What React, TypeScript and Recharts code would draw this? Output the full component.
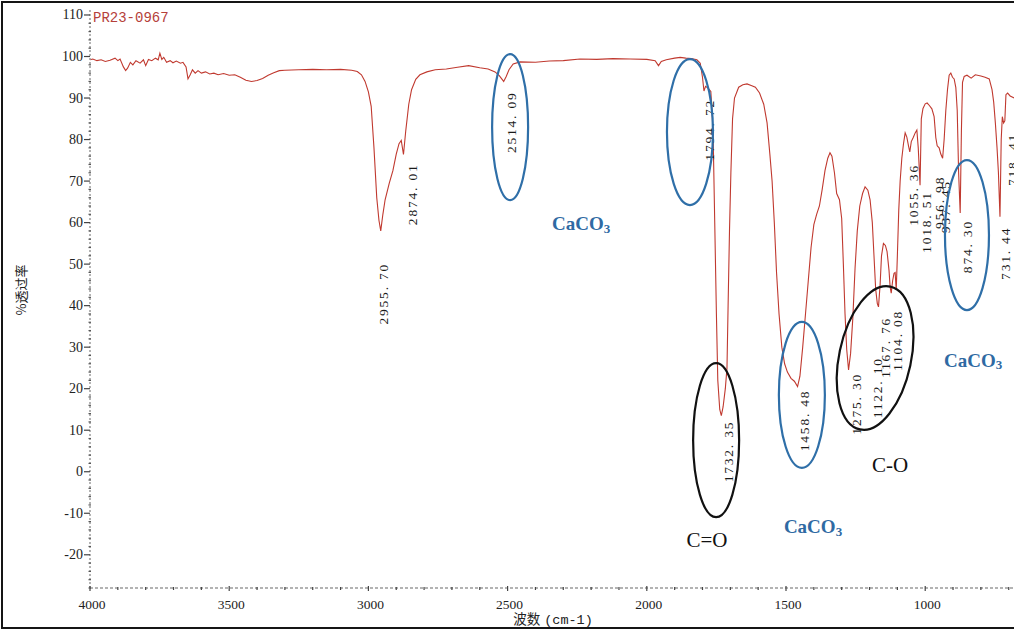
import React from 'react';
import { ComposedChart, Line, Scatter, XAxis, YAxis, ReferenceDot } from 'recharts';

// Wavenumber (cm-1) of each sampled point of the spectrum, high to low
const wavenumbers = [
  4000, 3990, 3975, 3960, 3945, 3928, 3910, 3900, 3892, 3880, 3872, 3865, 3855, 3846, 3835, 3820,
  3808, 3800, 3790, 3778, 3765, 3755, 3749, 3742, 3735, 3725, 3712, 3702, 3690, 3675, 3666, 3655,
  3648, 3640, 3632, 3622, 3612, 3600, 3585, 3570, 3555, 3540, 3520, 3500, 3480, 3460, 3440, 3420,
  3400, 3380, 3360, 3340, 3320, 3300, 3250, 3200, 3150, 3100, 3060, 3040, 3025, 3012, 3000, 2990,
  2980, 2970, 2962, 2955.7, 2948, 2940, 2925, 2912, 2900, 2890, 2882, 2874.01, 2866, 2855, 2845, 2830,
  2815, 2790, 2760, 2720, 2680, 2640, 2600, 2570, 2545, 2530, 2514.09, 2505, 2495, 2480, 2455, 2400,
  2350, 2300, 2240, 2180, 2121, 2060, 2000, 1970, 1958, 1948, 1930, 1900, 1880, 1860, 1840, 1820,
  1808, 1800, 1794.72, 1789, 1780, 1770, 1762, 1756, 1750, 1745, 1738, 1732.35, 1726, 1718, 1712, 1708,
  1703, 1698, 1692, 1685, 1670, 1655, 1640, 1625, 1610, 1595, 1580, 1568, 1558, 1550, 1542, 1534,
  1525, 1515, 1505, 1495, 1482, 1470, 1458.48, 1450, 1440, 1430, 1420, 1410, 1400, 1390, 1380, 1370,
  1360, 1350, 1342, 1335, 1326, 1318, 1308, 1300, 1294, 1288, 1282, 1275.3, 1268, 1260, 1252, 1244,
  1235, 1225, 1216, 1206, 1198, 1190, 1184, 1178, 1172, 1167.76, 1162, 1157, 1150, 1143, 1137, 1130,
  1126, 1122.1, 1117, 1112, 1108, 1104.08, 1100, 1095, 1090, 1084, 1078, 1072, 1066, 1060, 1055.36, 1050,
  1043, 1036, 1030, 1025, 1018.51, 1014, 1008, 1000, 993, 985, 976, 968, 962, 956.98, 950, 944,
  937.45, 932, 926, 920, 914, 908, 902, 896, 890, 885, 880, 874.3, 870, 866, 860, 850,
  835, 820, 800, 785, 770, 760, 754, 748, 742, 737, 731.44, 727, 723, 718.41, 714, 710,
  704, 695, 680, 665, 650, 640, 620,
];

// %T at each wavenumber above
const transmittance = [
  99.2, 99.4, 99.0, 99.2, 98.8, 99.1, 99.6, 99.0, 99.4, 97.5, 96.6, 97.2, 98.6, 98.0, 99.0, 98.4,
  99.2, 97.8, 99.3, 99.0, 99.6, 99.2, 100.8, 99.3, 99.8, 98.6, 99.0, 98.5, 98.9, 98.4, 98.6, 97.5,
  94.6, 95.6, 96.8, 96.0, 96.6, 96.0, 96.3, 95.8, 96.0, 95.6, 95.9, 95.5, 95.6, 95.0, 94.3, 94.0,
  94.2, 94.7, 95.5, 96.1, 96.6, 96.7, 96.8, 96.9, 96.8, 96.9, 96.7, 96.4, 95.6, 94.0, 91.5, 88.0,
  78.0, 66.0, 60.5, 58.0, 62.0, 65.5, 69.5, 72.5, 76.5, 79.0, 79.8, 76.4, 82.0, 88.5, 92.0, 94.5,
  95.6, 96.3, 96.8, 97.0, 97.4, 97.8, 97.3, 97.0, 96.3, 95.4, 94.0, 95.2, 96.8, 98.2, 98.7, 98.6,
  98.9, 99.0, 99.4, 99.3, 99.5, 99.4, 99.3, 99.0, 97.8, 98.8, 99.2, 99.6, 99.8, 99.6, 99.5, 99.2,
  98.4, 95.0, 91.7, 92.8, 92.4, 91.6, 82.0, 60.0, 38.0, 22.0, 15.0, 13.5, 15.6, 20.0, 25.0, 40.0,
  58.0, 72.0, 85.0, 90.0, 92.6, 93.2, 93.4, 93.0, 92.6, 91.2, 88.5, 84.0, 76.5, 70.0, 60.0, 48.0,
  38.0, 30.0, 26.0, 24.0, 22.5, 21.8, 20.5, 23.0, 30.0, 38.0, 46.0, 54.0, 59.5, 62.0, 64.0, 68.0,
  72.5, 75.5, 76.8, 76.0, 72.0, 67.0, 65.5, 61.0, 50.0, 38.0, 29.5, 24.5, 28.5, 37.0, 49.0, 58.0,
  64.0, 67.0, 68.6, 67.8, 65.5, 60.0, 52.0, 44.0, 40.5, 39.7, 45.0, 52.0, 55.0, 54.5, 53.0, 48.5,
  44.5, 43.0, 46.0, 47.8, 48.0, 43.8, 52.0, 63.0, 70.0, 75.5, 79.0, 81.6, 80.6, 78.5, 77.0, 79.5,
  80.5, 81.6, 82.3, 78.0, 69.0, 85.0, 87.5, 88.6, 88.8, 88.2, 87.4, 85.5, 80.5, 78.5, 78.0, 76.5,
  75.5, 80.0, 87.0, 92.0, 95.5, 96.0, 95.0, 94.6, 92.5, 87.0, 72.0, 62.3, 82.0, 93.8, 95.2, 95.5,
  94.8, 95.6, 95.3, 95.0, 94.6, 92.0, 89.0, 84.0, 78.0, 72.0, 61.4, 80.0, 85.5, 84.0, 84.5, 90.8,
  91.2, 90.5, 90.0, 90.5, 90.0, 90.2, 90.0,
];

// Picked peaks: position and %T at the tip
const peakWavenumbers = [2955.7, 2874.01, 2514.09, 1794.72, 1732.35, 1458.48, 1275.3, 1167.76, 1122.1, 1104.08, 1055.36, 1018.51, 956.98, 937.45, 874.3, 731.44, 718.41];
const peakTransmittance = [58.0, 76.4, 94.0, 91.7, 13.5, 20.5, 24.5, 39.7, 43.0, 43.8, 77.0, 69.0, 78.5, 75.5, 62.3, 61.4, 84.0];
// Where each peak's label sits relative to its tip, in pixels [dx, dy]
const peakLabelOffsets = [[3, 32], [9, 9], [8, 10], [6, 8], [7, 5], [7, 3], [8, 3], [7, 10], [-14, 64], [1, 20], [4, 12], [6, 6], [2, 30], [3, 22], [7, 7], [6, 10], [9, 10]];

const xTickLabels = [4000, 3500, 3000, 2500, 2000, 1500, 1000];
const yTickLabels = [110, 100, 90, 80, 70, 60, 50, 40, 30, 20, 10, 0, -10, -20];

// Marked groups: centre in data units, radii in px
const circledBands = [
  { wn: 2491, t: 83.0, rx: 18, ry: 73, angle: 0, color: '#2f6fa8' },
  { wn: 1845, t: 81.8, rx: 23, ry: 73, angle: 0, color: '#2f6fa8' },
  { wn: 1443, t: 18.5, rx: 23, ry: 73, angle: 0, color: '#2f6fa8' },
  { wn: 850, t: 57.0, rx: 22, ry: 75, angle: 0, color: '#2f6fa8' },
  { wn: 1751, t: 7.6, rx: 23, ry: 77, angle: 0, color: '#111' },
  { wn: 1180, t: 27.4, rx: 36, ry: 73, angle: 12, color: '#111' },
];

const bandNotes = [
  { wn: 2236, t: 59.7, text: 'CaCO', sub: '3', color: '#2f6aa3', bold: true },
  { wn: 828, t: 26.9, text: 'CaCO', sub: '3', color: '#2f6aa3', bold: true },
  { wn: 1403, t: -13.3, text: 'CaCO', sub: '3', color: '#2f6aa3', bold: true },
  { wn: 1784, t: -16.4, text: 'C=O', sub: '', color: '#111', bold: false },
  { wn: 1126, t: 1.6, text: 'C-O', sub: '', color: '#111', bold: false },
];

const spectrum = wavenumbers.map((wn, i) => ({ wn, t: transmittance[i] }));

const formatPeak = (wn: number) => {
  const [a, b] = wn.toFixed(2).split('.');
  return `${a}. ${b}`;
};

const peaks = peakWavenumbers.map((wn, i) => ({
  wn,
  t: peakTransmittance[i],
  label: formatPeak(wn),
  dx: peakLabelOffsets[i][0],
  dy: peakLabelOffsets[i][1],
}));

const xMinorTicks: number[] = [];
for (let v = 4000; v >= 700; v -= 100) xMinorTicks.push(v);
const yMinorTicks: number[] = [];
for (let v = -28; v <= 110; v += 2) yMinorTicks.push(v);

const SERIF = '"Liberation Serif", "Times New Roman", serif';
const PLOT_BOTTOM = 588;
const PLOT_LEFT = 90;

const XTick = (props: any) => {
  const { x, payload } = props;
  const v = payload.value;
  const major = xTickLabels.includes(v);
  return (
    <g>
      <line x1={x} x2={x} y1={PLOT_BOTTOM - (major ? 2 : 1)} y2={PLOT_BOTTOM + (major ? 3 : 2)} stroke="#444" strokeWidth={1.2} />
      {major && (
        <text x={x + 2} y={PLOT_BOTTOM + 21} textAnchor="middle" fontSize={13.5} fontFamily={SERIF} fill="#222">
          {v}
        </text>
      )}
    </g>
  );
};

const YTick = (props: any) => {
  const { y, payload } = props;
  const v = payload.value;
  const major = yTickLabels.includes(v);
  return (
    <g>
      {major ? (
        <line x1={PLOT_LEFT - 6} x2={PLOT_LEFT} y1={y} y2={y} stroke="#444" strokeWidth={1.2} />
      ) : (
        <line x1={PLOT_LEFT - 1.5} x2={PLOT_LEFT + 1} y1={y} y2={y} stroke="#555" strokeWidth={1.2} />
      )}
      {major && (
        <text x={PLOT_LEFT - 7} y={y} textAnchor="end" dominantBaseline="central" fontSize={14} fontFamily={SERIF} fill="#222">
          {v}
        </text>
      )}
    </g>
  );
};

const PeakLabel = (props: any) => {
  const { cx, cy, payload } = props;
  if (cx == null || cy == null) return <g />;
  const x = cx + payload.dx;
  const y = cy + payload.dy;
  return (
    <text
      x={x}
      y={y}
      transform={`rotate(-90 ${x} ${y})`}
      textAnchor="end"
      dominantBaseline="central"
      fontSize={13.5}
      letterSpacing={1.8}
      fontFamily={SERIF}
      fill="#1a1a1a"
    >
      {payload.label}
    </text>
  );
};

export default function App() {
  return (
    <div style={{ position: 'absolute', left: 0, top: 0, width: 1014, height: 630, overflow: 'hidden', background: '#fff' }}>
      <div
        style={{
          position: 'absolute',
          left: 1,
          top: 1,
          width: 1100,
          height: 624,
          border: '2px solid #151515',
        }}
      />
      <div style={{ position: 'absolute', left: 0, top: 0 }}>
        <ComposedChart width={1041} height={630} data={spectrum} margin={{ top: 10, right: 10, bottom: 0, left: 0 }}>
          <XAxis
            dataKey="wn"
            type="number"
            domain={[620, 4000]}
            reversed
            allowDataOverflow
            ticks={xMinorTicks}
            interval={0}
            height={42}
            tickSize={0}
            tickMargin={0}
            tickLine={false}
            axisLine={{ stroke: '#9a9a9a', strokeWidth: 1.5, strokeDasharray: '3 2' }}
            tick={<XTick />}
            label={{
              content: () => (
                <text x={553} y={624} textAnchor="middle" fontSize={13.5} fill="#222" fontFamily={'"Liberation Mono", "Noto Sans CJK SC", monospace'}>
                  <tspan fontFamily={'"Noto Sans CJK SC", sans-serif'}>波数</tspan>
                  <tspan dx={4}>(cm-1)</tspan>
                </text>
              ),
            }}
          />
          <YAxis
            dataKey="t"
            type="number"
            domain={[-28, 111.2]}
            allowDataOverflow
            ticks={yMinorTicks}
            interval={0}
            width={90}
            tickSize={0}
            tickMargin={0}
            tickLine={false}
            axisLine={{ stroke: '#9a9a9a', strokeWidth: 1.5, strokeDasharray: '2 2' }}
            tick={<YTick />}
            label={{
              content: () => (
                <text
                  x={20}
                  y={290}
                  transform="rotate(-90 20 290)"
                  textAnchor="middle"
                  dominantBaseline="central"
                  fontSize={13}
                  fill="#222"
                  fontFamily={'"Noto Sans CJK SC", sans-serif'}
                >
                  %透过率
                </text>
              ),
            }}
          />
          <Line
            dataKey="t"
            type="linear"
            stroke="#c0392f"
            strokeWidth={1.1}
            dot={false}
            activeDot={false}
            isAnimationActive={false}
          />
          <Scatter data={peaks} dataKey="t" shape={<PeakLabel />} isAnimationActive={false} />
          {circledBands.map((b, i) => (
            <ReferenceDot
              key={`band-${i}`}
              x={b.wn}
              y={b.t}
              shape={(p: any) => (
                <ellipse
                  cx={p.cx}
                  cy={p.cy}
                  rx={b.rx}
                  ry={b.ry}
                  fill="none"
                  stroke={b.color}
                  strokeWidth={2.2}
                  transform={`rotate(${b.angle} ${p.cx} ${p.cy})`}
                />
              )}
            />
          ))}
          {bandNotes.map((n, i) => (
            <ReferenceDot
              key={`note-${i}`}
              x={n.wn}
              y={n.t}
              shape={(p: any) => (
                <text
                  x={p.cx}
                  y={p.cy}
                  textAnchor="middle"
                  dominantBaseline="central"
                  fontSize={n.bold ? 19 : 21}
                  fontWeight={n.bold ? 'bold' : 'normal'}
                  fontFamily={SERIF}
                  fill={n.color}
                >
                  {n.text}
                  {n.sub && (
                    <tspan dy={4} fontSize={13}>
                      {n.sub}
                    </tspan>
                  )}
                </text>
              )}
            />
          ))}
          <ReferenceDot
            x={4000}
            y={111.2}
            shape={(p: any) => (
              <text x={p.cx + 3} y={p.cy + 12} fontSize={14} fill="#b5403a" fontFamily={'"Liberation Mono", "Courier New", monospace'}>
                PR23-0967
              </text>
            )}
          />
        </ComposedChart>
      </div>
    </div>
  );
}
